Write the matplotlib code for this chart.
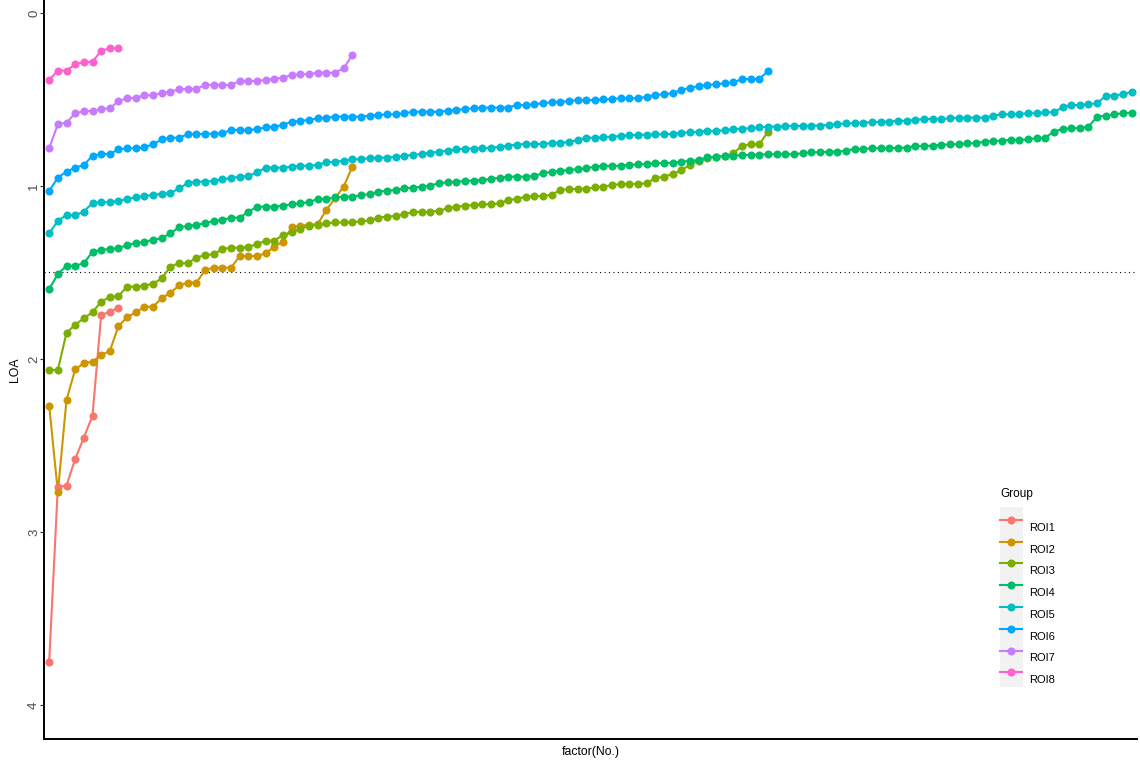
import numpy as np
import matplotlib
matplotlib.use("Agg")
import matplotlib.pyplot as plt
from matplotlib.lines import Line2D
from matplotlib.patches import Rectangle

plt.rcParams['font.family'] = ['Liberation Sans', 'DejaVu Sans']

groups = ["ROI1", "ROI2", "ROI3", "ROI4", "ROI5", "ROI6", "ROI7", "ROI8"]
colors = ["#F8766D", "#CD9600", "#7CAE00", "#00BE67", "#00BFC4", "#00A9FF", "#C77CFF", "#FF61CC"]

roi1 = [3.750, 2.738, 2.732, 2.578, 2.455, 2.328, 1.746, 1.727, 1.703]

roi2 = [2.270, 2.771, 2.237, 2.060, 2.025, 2.016, 1.977, 1.954, 1.809, 1.759,
        1.730, 1.698, 1.698, 1.649, 1.617, 1.575, 1.559, 1.559, 1.486, 1.472,
        1.472, 1.472, 1.405, 1.405, 1.405, 1.389, 1.351, 1.322, 1.239, 1.229,
        1.225, 1.220, 1.139, 1.071, 1.004, 0.888]

roi3 = [2.064, 2.064, 1.848, 1.803, 1.765, 1.730, 1.669, 1.642, 1.636, 1.582,
        1.582, 1.576, 1.565, 1.534, 1.466, 1.447, 1.447, 1.414, 1.399, 1.395,
        1.364, 1.357, 1.357, 1.351, 1.337, 1.316, 1.316, 1.283, 1.268, 1.249,
        1.229, 1.225, 1.216, 1.211, 1.211, 1.211, 1.204, 1.199, 1.183, 1.177,
        1.173, 1.162, 1.152, 1.149, 1.149, 1.143, 1.129, 1.120, 1.114, 1.110,
        1.106, 1.106, 1.100, 1.081, 1.075, 1.062, 1.058, 1.058, 1.052, 1.023,
        1.019, 1.017, 1.017, 1.008, 1.004, 0.994, 0.990, 0.988, 0.988, 0.984,
        0.955, 0.946, 0.931, 0.908, 0.879, 0.854, 0.840, 0.831, 0.827, 0.811,
        0.767, 0.759, 0.759, 0.686]

roi4 = [1.595, 1.510, 1.461, 1.461, 1.447, 1.380, 1.370, 1.364, 1.360, 1.341,
        1.331, 1.322, 1.312, 1.302, 1.273, 1.239, 1.231, 1.225, 1.216, 1.202,
        1.197, 1.183, 1.183, 1.149, 1.120, 1.120, 1.120, 1.114, 1.106, 1.100,
        1.094, 1.075, 1.075, 1.066, 1.062, 1.062, 1.054, 1.047, 1.033, 1.027,
        1.023, 1.013, 1.010, 1.004, 0.998, 0.984, 0.979, 0.975, 0.971, 0.969,
        0.965, 0.960, 0.952, 0.946, 0.946, 0.946, 0.942, 0.927, 0.917, 0.913,
        0.908, 0.903, 0.898, 0.888, 0.884, 0.884, 0.883, 0.879, 0.875, 0.873,
        0.869, 0.869, 0.865, 0.860, 0.855, 0.850, 0.834, 0.831, 0.827, 0.825,
        0.821, 0.821, 0.819, 0.817, 0.817, 0.817, 0.817, 0.811, 0.805, 0.805,
        0.802, 0.802, 0.796, 0.786, 0.786, 0.782, 0.782, 0.782, 0.779, 0.779,
        0.769, 0.769, 0.767, 0.763, 0.759, 0.759, 0.753, 0.753, 0.744, 0.740,
        0.738, 0.734, 0.734, 0.730, 0.724, 0.721, 0.686, 0.671, 0.666, 0.666,
        0.657, 0.599, 0.594, 0.586, 0.580, 0.576]

roi5 = [1.273, 1.202, 1.168, 1.168, 1.149, 1.097, 1.094, 1.094, 1.087, 1.075,
        1.065, 1.058, 1.052, 1.046, 1.042, 1.013, 0.984, 0.975, 0.975, 0.971,
        0.961, 0.955, 0.946, 0.942, 0.921, 0.894, 0.894, 0.894, 0.888, 0.883,
        0.883, 0.879, 0.863, 0.861, 0.854, 0.846, 0.845, 0.840, 0.836, 0.836,
        0.831, 0.825, 0.821, 0.815, 0.808, 0.802, 0.796, 0.788, 0.784, 0.784,
        0.780, 0.780, 0.773, 0.767, 0.761, 0.757, 0.757, 0.757, 0.753, 0.750,
        0.747, 0.734, 0.721, 0.721, 0.718, 0.715, 0.711, 0.707, 0.705, 0.703,
        0.701, 0.701, 0.699, 0.692, 0.690, 0.686, 0.682, 0.682, 0.678, 0.671,
        0.669, 0.666, 0.661, 0.657, 0.657, 0.653, 0.653, 0.653, 0.651, 0.651,
        0.647, 0.643, 0.638, 0.638, 0.634, 0.632, 0.628, 0.628, 0.623, 0.623,
        0.618, 0.613, 0.613, 0.613, 0.609, 0.605, 0.605, 0.605, 0.605, 0.594,
        0.586, 0.586, 0.584, 0.580, 0.580, 0.574, 0.574, 0.545, 0.532, 0.532,
        0.528, 0.522, 0.478, 0.478, 0.468, 0.458]

roi6 = [1.029, 0.952, 0.917, 0.894, 0.879, 0.825, 0.815, 0.815, 0.788, 0.782,
        0.782, 0.776, 0.759, 0.731, 0.721, 0.721, 0.701, 0.701, 0.698, 0.698,
        0.695, 0.676, 0.676, 0.676, 0.672, 0.661, 0.657, 0.647, 0.628, 0.624,
        0.618, 0.609, 0.605, 0.599, 0.599, 0.599, 0.599, 0.594, 0.590, 0.586,
        0.586, 0.580, 0.571, 0.571, 0.571, 0.571, 0.565, 0.561, 0.555, 0.551,
        0.547, 0.547, 0.547, 0.547, 0.532, 0.532, 0.528, 0.522, 0.516, 0.513,
        0.509, 0.503, 0.503, 0.503, 0.499, 0.497, 0.493, 0.493, 0.493, 0.484,
        0.474, 0.470, 0.464, 0.445, 0.432, 0.422, 0.416, 0.412, 0.406, 0.401,
        0.382, 0.382, 0.382, 0.335]

roi7 = [0.782, 0.643, 0.634, 0.580, 0.568, 0.566, 0.555, 0.551, 0.509, 0.493,
        0.490, 0.476, 0.476, 0.461, 0.455, 0.441, 0.439, 0.439, 0.416, 0.416,
        0.416, 0.416, 0.393, 0.393, 0.393, 0.387, 0.380, 0.374, 0.358, 0.354,
        0.354, 0.345, 0.345, 0.345, 0.320, 0.243]

roi8 = [0.387, 0.333, 0.333, 0.297, 0.283, 0.283, 0.218, 0.205, 0.205]

series = [roi1, roi2, roi3, roi4, roi5, roi6, roi7, roi8]
threshold = 1.5
y_ticks = [0, 1, 2, 3, 4]

W, H = 1140, 763
fig = plt.figure(figsize=(W / 100, H / 100), dpi=100)
ax = fig.add_axes([44 / W, 1 - 739 / H, (1137 - 44) / W, 739 / H])

for vals, col in zip(series, colors):
    x = np.arange(1, len(vals) + 1)
    ax.plot(x, vals, color=col, lw=1.5, zorder=2, solid_capstyle='butt')
for vals, col in zip(series, colors):
    x = np.arange(1, len(vals) + 1)
    ax.plot(x, vals, linestyle='none', marker='o', ms=5.8, color=col,
            markeredgewidth=0, zorder=3)

ax.axhline(threshold, color='black', lw=0.8, linestyle=(0, (1, 3)), zorder=1)

nmax = max(len(s) for s in series)
ax.set_xlim(0.4, nmax + 0.6)
ax.set_ylim(4.197, -0.075)
ax.set_xticks([])
ax.set_yticks(y_ticks)
ax.set_yticklabels([str(t) for t in y_ticks])
for lbl in ax.get_yticklabels():
    lbl.set_rotation(90)
    lbl.set_va('center')
    lbl.set_ha('right')
ax.tick_params(axis='y', length=2.8, width=0.8, color='#333333', labelsize=9.5,
               labelcolor='#4D4D4D', pad=0)

for s in ['top', 'right']:
    ax.spines[s].set_visible(False)
for s in ['left', 'bottom']:
    ax.spines[s].set_linewidth(1.4)
    ax.spines[s].set_color('black')

ax.set_xlabel('factor(No.)', fontsize=8.8, labelpad=5)
ax.set_ylabel('LOA', fontsize=8.8, labelpad=5)

# legend
handles = [Line2D([0], [0], color=c, lw=1.5, marker='o', ms=5.8, markeredgewidth=0)
           for c in colors]
bg = Rectangle((1000 / W, 1 - 687 / H), 23 / W, 180 / H, transform=fig.transFigure,
               facecolor='#F2F2F2', edgecolor='none', zorder=4, clip_on=False)
ax.add_artist(bg)
leg = ax.legend(handles, groups, title='Group', loc='upper left',
                bbox_to_anchor=(1000 / W, 1 - 492 / H), bbox_transform=fig.transFigure,
                frameon=False, fontsize=8, title_fontsize=8.5, borderpad=0,
                borderaxespad=0, handlelength=2.0, handletextpad=0.6,
                labelspacing=1.06, alignment='left')
leg.set_zorder(5)
for t in leg.get_texts():
    t.set_y(-7)
leg.get_title().set_y(4)

fig.savefig('out.png', dpi=100)
